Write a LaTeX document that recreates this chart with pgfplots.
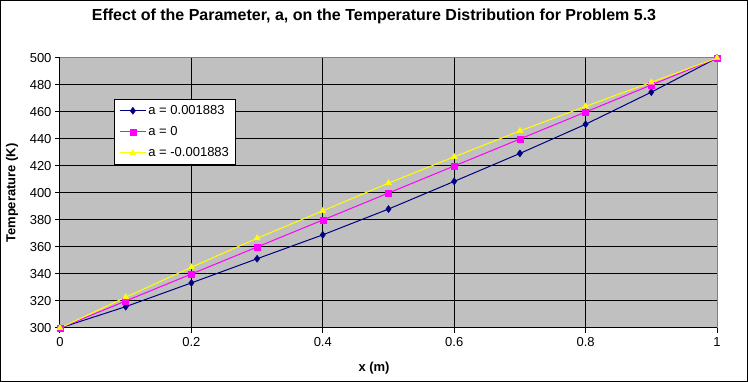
\documentclass[border=0pt]{standalone}
\usepackage{fontspec}
\setmainfont{Liberation Sans}
\usepackage{pgfplots}
\pgfplotsset{compat=1.18}
\definecolor{exnavy}{RGB}{0,0,128}
\definecolor{exmag}{RGB}{255,0,255}
\definecolor{exyel}{RGB}{255,255,0}
\definecolor{exsilver}{RGB}{192,192,192}
\definecolor{exgray}{RGB}{128,128,128}
\begin{document}
\begin{tikzpicture}
\useasboundingbox (-60pt,-54pt) rectangle (688pt,328pt);
\draw[line width=1pt] (-59.5pt,-53.5pt) rectangle (687.5pt,327.5pt);
\begin{axis}[
  scale only axis, width=657pt, height=270pt,
  at={(0pt,0pt)}, anchor=south west,
  xmin=0, xmax=1, ymin=300, ymax=500,
  axis x line*=bottom, axis y line*=left,
  axis line style={black, line width=1pt},
  axis background/.style={fill=exsilver, draw=exgray, line width=1pt},
  xtick={0,0.2,0.4,0.6,0.8}, extra x ticks={1},
  ytick={300,320,...,480}, extra y ticks={500},
  extra tick style={grid=none},
  grid=major, major grid style={black, line width=1pt},
  tick align=outside, major tick length=5pt,
  tick style={black, line width=1pt},
  /pgf/number format/assume math mode=true,
  tick label style={font=\fontsize{13}{15}\selectfont},
  xticklabel style={yshift=-1pt},
  title={Effect of the Parameter, a, on the Temperature Distribution for Problem 5.3},
  title style={font=\fontsize{16}{19}\selectfont\bfseries, at={(axis description cs:0.478,1.133)}, anchor=center},
  xlabel={x (m)},
  xlabel style={font=\fontsize{13}{15}\selectfont\bfseries, at={(axis description cs:0.478,-0.148)}, anchor=center},
  ylabel={Temperature (K)},
  ylabel style={font=\fontsize{13}{15}\selectfont\bfseries, at={(axis description cs:-0.073,0.5)}, anchor=center, rotate=0},
  legend style={at={(axis description cs:0.082,0.848)}, anchor=north west, draw=black, fill=white, line width=1pt,
    font=\fontsize{13}{15}\selectfont, row sep=6.5pt, inner xsep=5pt, inner ysep=4pt},
  legend cell align=left,
  legend image code/.code={\draw[#1, line width=1pt] (0pt,0pt) -- (26pt,0pt); \draw[#1, mark repeat=2, mark phase=2] plot coordinates {(0pt,0pt) (13pt,0pt) (26pt,0pt)};},
]
\addplot[exnavy, line width=1pt, mark=diamond*, mark size=3.5pt, mark options={solid, fill=exnavy, line width=0.5pt}] coordinates {
(0,300) (0.1,315.8) (0.2,333.4) (0.3,351.3) (0.4,369.0) (0.5,388.1) (0.6,408.6) (0.7,429.3) (0.8,450.9) (0.9,474.7) (1,500)};
\addlegendentry{a = 0.001883}
\addplot[exmag, line width=1pt, mark=square*, mark size=3pt, mark options={solid, fill=exmag, line width=0.5pt}] coordinates {
(0,300) (0.1,320) (0.2,340) (0.3,360) (0.4,380) (0.5,400) (0.6,420) (0.7,440) (0.8,460) (0.9,480) (1,500)};
\addlegendentry{a = 0}
\addplot[exyel, line width=1pt, mark=triangle*, mark size=3.5pt, mark options={solid, fill=exyel, line width=0.5pt}] coordinates {
(0,300) (0.1,322.8) (0.2,345.0) (0.3,366.5) (0.4,386.8) (0.5,407.3) (0.6,426.8) (0.7,446.0) (0.8,464.2) (0.9,482.0) (1,500)};
\addlegendentry{a = -0.001883}
\end{axis}
\end{tikzpicture}
\end{document}
